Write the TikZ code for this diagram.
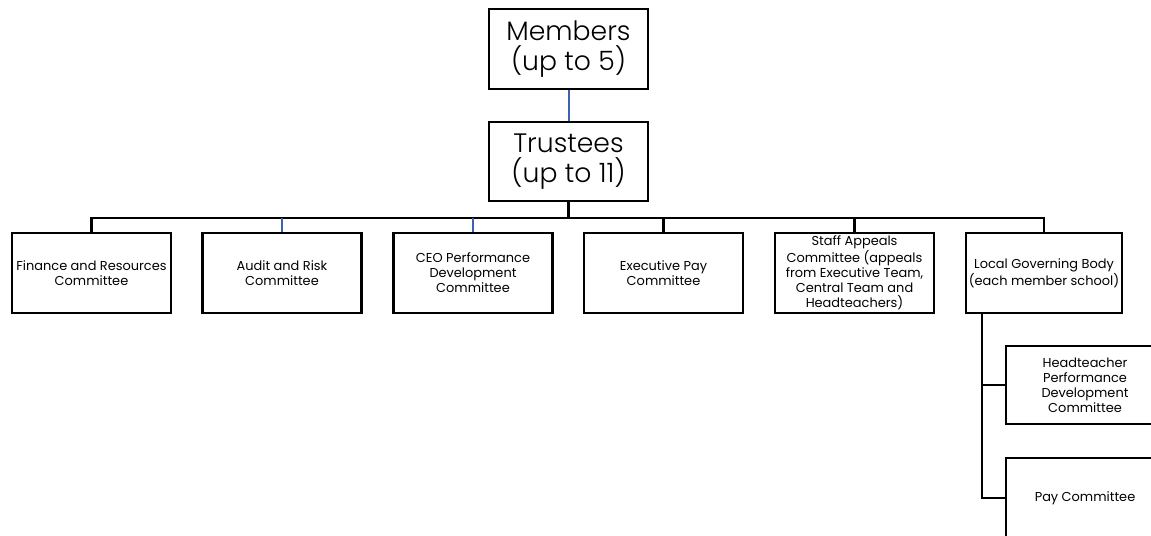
\documentclass[tikz,border=0pt]{standalone}
\usepackage{fontspec}
\setmainfont{Poppins}
\newfontfamily\lightfont{Poppins Light}
\tikzset{
 bigbox/.style={draw,line width=1.6pt,minimum width=119.25pt,minimum height=60pt,inner sep=0pt,align=center,font=\lightfont\fontsize{20}{22.5}\selectfont},
 combox/.style={draw,line width=1.6pt,minimum width=119.25pt,minimum height=60pt,inner sep=0pt,align=center,font=\fontsize{9.7}{11.2}\selectfont},
 conn/.style={line width=1.6pt},
 blueconn/.style={line width=1.5pt,draw={rgb,255:red,58;green,100;blue,175}}
}
\begin{document}
\begin{tikzpicture}[x=0.75pt,y=-0.75pt]
 \useasboundingbox (0,0) rectangle (1151,535);
 \clip (0,0) rectangle (1151,535);
 % top of the tree
 \node[bigbox] (members) at (568.5,49) {Members\\(up to 5)};
 \node[bigbox,minimum height=59.25pt] (trustees) at (568.5,161.5) {Trustees\\(up to 11)};
 % committees
 \node[combox] (finance) at (91.5,273) {Finance and Resources\\Committee};
 \node[combox] (audit) at (282,273) {Audit and Risk\\Committee};
 \node[combox] (ceo) at (473,273) {CEO Performance\\Development\\Committee};
 \node[combox] (execpay) at (663.5,273) {Executive Pay\\Committee};
 \node[combox] (appeals) at (854.5,273) {Staff Appeals\\Committee (appeals\\from Executive Team,\\Central Team and\\Headteachers)};
 \node[combox,minimum width=117pt] (lgb) at (1044,273) {Local Governing Body\\(each member school)};
 % under the local governing body
 \node[combox,minimum width=118.5pt,minimum height=58.5pt] (head) at (1085,385) {Headteacher\\Performance\\Development\\Committee};
 \node[combox,minimum width=118.5pt] (pay) at (1085,498) {Pay Committee};
 \coordinate (stem) at (982,313);
 % connectors
 \draw[blueconn] (members.south) -- (trustees.north);
 \draw[conn] (trustees.south) -- ++(0,16) coordinate (bus);
 \draw[conn] (finance.north) |- (bus) -| (lgb.north);
 \draw[blueconn] (audit.north) -- (audit.north |- bus);
 \draw[blueconn] (ceo.north) -- (ceo.north |- bus);
 \draw[conn] (execpay.north) -- (execpay.north |- bus);
 \draw[conn] (appeals.north) -- (appeals.north |- bus);
 \draw[conn] (stem) |- (head.west);
 \draw[conn] (stem) |- (pay.west);
\end{tikzpicture}
\end{document}
